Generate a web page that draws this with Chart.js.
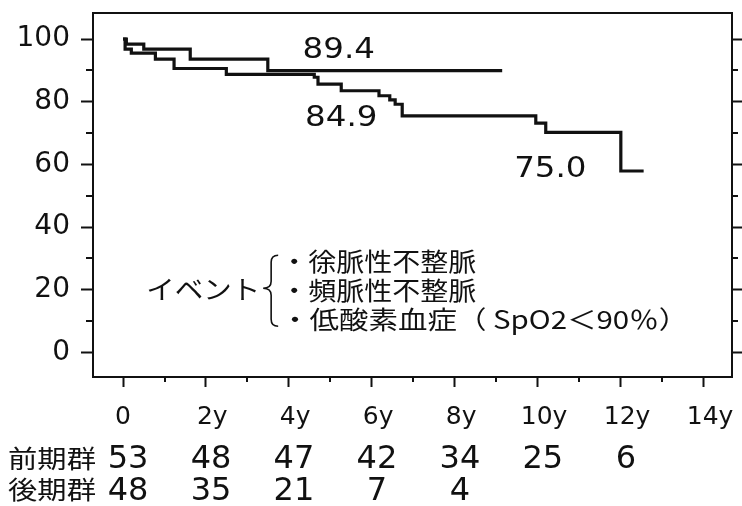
<!DOCTYPE html>
<html>
<head>
<meta charset="utf-8">
<script src="https://cdn.jsdelivr.net/npm/chart.js@4.4.1/dist/chart.umd.min.js"></script>
<style>
  html, body { margin: 0; padding: 0; background: #fff; }
  canvas { display: block; }
</style>
</head>
<body>
<canvas id="km" width="742" height="506"></canvas>
<script>
// Kaplan-Meier curves (years, % event-free)
var earlyTimes = [0, 0.05, 0.2, 0.78, 1.23, 2.49, 4.61, 4.70, 5.26, 6.17, 6.43, 6.56, 6.73, 9.95, 10.19, 12.0, 12.55];
var earlySurv  = [100, 96.8, 95.5, 93.6, 90.6, 88.7, 87.8, 85.6, 83.5, 81.9, 80.6, 79.2, 75.5, 73.2, 70.2, 57.9, 57.9];
var lateTimes  = [0, 0.08, 0.5, 1.62, 3.49, 9.14];
var lateSurv   = [100, 98.4, 96.8, 93.6, 89.9, 89.9];

// axis ticks
var xTickValues = [0, 2, 4, 6, 8, 10, 12, 14];
var xTickLabels = ['0', '2y', '4y', '6y', '8y', '10y', '12y', '14y'];
var xMinorTicks = [1, 3, 5, 7, 9, 11, 13];
var yTickValues = [0, 20, 40, 60, 80, 100];
var yMinorTicks = [10, 30, 50, 70, 90];

// numbers at risk
var groupNames = ['前期群', '後期群'];
var riskTimes = [0, 2, 4, 6, 8, 10, 12];
var earlyAtRisk = [53, 48, 47, 42, 34, 25, 6];
var lateAtRisk = [48, 35, 21, 7, 4];

// text labels on the curves
var curveLabels = ['89.4', '84.9', '75.0'];
var curveLabelPos = [[5.2, 96.4], [5.26, 74.8], [10.3, 58.3]];
var eventTitle = 'イベント';
var eventItems = ['・徐脈性不整脈', '・頻脈性不整脈', '・低酸素血症（ SpO2＜90％）'];

function toPoints(ts, vs) {
  return ts.map(function (t, i) { return { x: t, y: vs[i] }; });
}

function drawScaled(ctx, text, x, y, font, sx, align) {
  ctx.save();
  ctx.font = font;
  ctx.textBaseline = 'middle';
  ctx.textAlign = align || 'center';
  ctx.translate(x, y);
  ctx.scale(sx, 1);
  ctx.fillText(text, 0, 0);
  ctx.restore();
}

function drawFit(ctx, text, x, y, font, w, align) {
  ctx.save();
  ctx.font = font;
  var m = ctx.measureText(text).width;
  ctx.restore();
  drawScaled(ctx, text, x, y, font, w / m, align || 'left');
}

function noEdgePadding(s) {
  s.paddingTop = 0;
  s.paddingBottom = 0;
  s.paddingLeft = 0;
  s.paddingRight = 0;
}

var decor = {
  id: 'decor',
  afterDraw: function (chart) {
    var ctx = chart.ctx;
    var ca = chart.chartArea;
    var xs = chart.scales.x;
    var ys = chart.scales.y;
    ctx.save();
    ctx.strokeStyle = '#111';
    ctx.fillStyle = '#111';
    ctx.lineWidth = 2;

    // top border of the box
    ctx.beginPath();
    ctx.moveTo(ca.left - 1, ca.top);
    ctx.lineTo(ca.right + 1, ca.top);
    ctx.stroke();

    // minor ticks
    ctx.beginPath();
    xMinorTicks.forEach(function (t) {
      var px = Math.round(xs.getPixelForValue(t));
      ctx.moveTo(px, ca.bottom);
      ctx.lineTo(px, ca.bottom + 5);
    });
    yMinorTicks.forEach(function (v) {
      var py = Math.round(ys.getPixelForValue(v));
      ctx.moveTo(ca.left - 7, py);
      ctx.lineTo(ca.left, py);
      ctx.moveTo(ca.right, py);
      ctx.lineTo(ca.right + 6, py);
    });
    ctx.stroke();

    // values on the curves
    curveLabels.forEach(function (txt, i) {
      drawScaled(ctx, txt, xs.getPixelForValue(curveLabelPos[i][0]),
        ys.getPixelForValue(curveLabelPos[i][1]), '29px "DejaVu Sans"', 1.12, 'center');
    });

    // event legend with brace
    var bx = xs.getPixelForValue(3.45);
    var by = ys.getPixelForValue(20.5);
    ctx.lineWidth = 1.6;
    ctx.beginPath();
    ctx.moveTo(bx + 12, by - 33);
    ctx.quadraticCurveTo(bx + 5, by - 33, bx + 5, by - 26);
    ctx.lineTo(bx + 5, by - 7);
    ctx.quadraticCurveTo(bx + 5, by, bx - 3, by);
    ctx.quadraticCurveTo(bx + 5, by, bx + 5, by + 7);
    ctx.lineTo(bx + 5, by + 31);
    ctx.quadraticCurveTo(bx + 5, by + 38, bx + 12, by + 38);
    ctx.stroke();
    var jp = '"Noto Sans CJK JP", sans-serif';
    drawFit(ctx, eventTitle, bx - 6, by + 1, '26px ' + jp, 114, 'right');
    drawFit(ctx, eventItems[0], bx + 14, by - 27, '25px ' + jp, 196);
    drawFit(ctx, eventItems[1], bx + 14, by + 2, '25px ' + jp, 196);
    drawFit(ctx, eventItems[2], bx + 14, by + 31, '25px ' + jp, 408);

    // numbers at risk
    drawFit(ctx, groupNames[0], 8, 458, '25px ' + jp, 88);
    drawFit(ctx, groupNames[1], 8, 489, '25px ' + jp, 88);
    ctx.font = '32px "DejaVu Sans"';
    ctx.textAlign = 'center';
    ctx.textBaseline = 'middle';
    earlyAtRisk.forEach(function (n, i) {
      ctx.fillText(String(n), xs.getPixelForValue(riskTimes[i]) + 5, 460);
    });
    lateAtRisk.forEach(function (n, i) {
      ctx.fillText(String(n), xs.getPixelForValue(riskTimes[i]) + 5, 492);
    });
    ctx.restore();
  }
};

var ctx = document.getElementById('km').getContext('2d');
var kmChart = new Chart(ctx, {
  type: 'line',
  data: {
    datasets: [{
      label: '前期群',
      data: toPoints(earlyTimes, earlySurv),
      stepped: true,
      borderColor: '#111',
      borderWidth: 3.2,
      pointRadius: 0,
      fill: false
    }, {
      label: '後期群',
      data: toPoints(lateTimes, lateSurv),
      stepped: true,
      borderColor: '#111',
      borderWidth: 3.2,
      pointRadius: 0,
      fill: false
    }]
  },
  options: {
    responsive: false,
    animation: false,
    layout: { padding: { top: 13, left: 0, right: 0, bottom: 0 } },
    plugins: {
      legend: { display: false },
      tooltip: { enabled: false }
    },
    scales: {
      x: {
        type: 'linear',
        min: -0.724,
        max: 14.68,
        afterBuildTicks: function (s) { s.ticks = xTickValues.map(function (v) { return { value: v }; }); },
        afterFit: function (s) { s.height = 129; noEdgePadding(s); },
        border: { display: true, color: '#111', width: 2 },
        grid: { drawOnChartArea: false, tickLength: 10, tickColor: '#111', tickWidth: 2 },
        ticks: {
          color: '#111',
          padding: 15,
          maxRotation: 0,
          autoSkip: false,
          font: { family: 'DejaVu Sans', size: 25 },
          callback: function (v, i) { return i === 0 ? xTickLabels[i] : '\u2002' + xTickLabels[i]; }
        }
      },
      y: {
        type: 'linear',
        position: 'left',
        min: -7.8,
        max: 108.3,
        afterBuildTicks: function (s) { s.ticks = yTickValues.map(function (v) { return { value: v }; }); },
        afterFit: function (s) { s.width = 93; noEdgePadding(s); },
        border: { display: true, color: '#111', width: 2 },
        grid: { drawOnChartArea: false, tickLength: 12, tickColor: '#111', tickWidth: 2 },
        ticks: {
          color: '#111',
          padding: 11,
          font: { family: 'DejaVu Sans', size: 28 }
        }
      },
      y2: {
        type: 'linear',
        position: 'right',
        min: -7.8,
        max: 108.3,
        afterBuildTicks: function (s) { s.ticks = yTickValues.map(function (v) { return { value: v }; }); },
        afterFit: function (s) { s.width = 10; noEdgePadding(s); },
        border: { display: true, color: '#111', width: 2 },
        grid: { drawOnChartArea: false, tickLength: 10, tickColor: '#111', tickWidth: 2 },
        ticks: { display: false }
      }
    }
  },
  plugins: [decor]
});
</script>
</body>
</html>
